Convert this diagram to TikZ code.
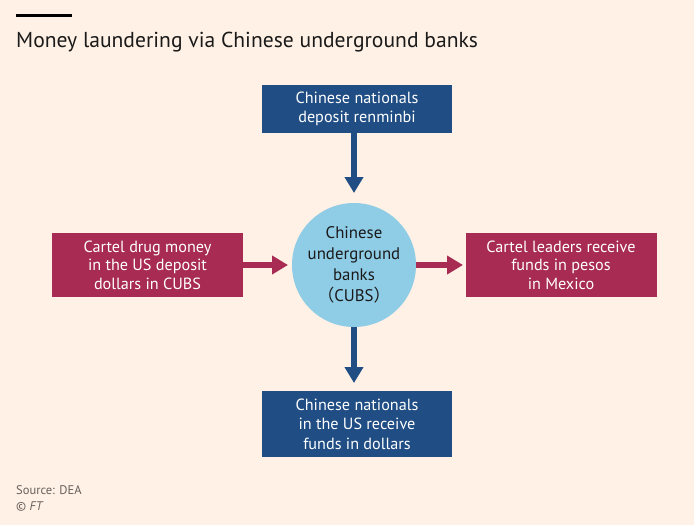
\documentclass[tikz,border=0pt]{standalone}
\usepackage{fontspec}
\setmainfont{PT Sans}
\newfontfamily\cjk{Noto Sans CJK SC}
\usetikzlibrary{arrows.meta}
\definecolor{ftbg}{HTML}{FFF1E5}
\definecolor{ftblue}{HTML}{1F4D84}
\definecolor{ftclaret}{HTML}{A72B53}
\definecolor{ftsky}{HTML}{8FCCE6}
\definecolor{ftgrey}{HTML}{66605C}
\definecolor{ftink}{HTML}{1A1A1A}
\tikzset{
  bluebox/.style={fill=ftblue, text=white, minimum width=190pt, align=center, inner sep=0pt, font=\fontsize{16.2}{19.5}\selectfont},
  claretbox/.style={fill=ftclaret, text=white, minimum width=191pt, minimum height=64pt, align=center, inner sep=0pt, font=\fontsize{16.2}{18.5}\selectfont},
  hub/.style={circle, fill=ftsky, text=ftink, minimum size=124pt, align=center, inner sep=0pt, font=\fontsize{16.8}{21}\selectfont},
  bluearrow/.style={draw=ftblue, line width=6pt, -{Triangle[width=18pt,length=16pt]}},
  claretarrow/.style={draw=ftclaret, line width=6pt, -{Triangle[width=18pt,length=16pt]}},
}
\begin{document}
\begin{tikzpicture}[x=1pt,y=-1pt]
\fill[ftbg] (0,0) rectangle (694,525);
\useasboundingbox (0,0) rectangle (694,525);
\fill[black] (16,13.5) rectangle (72,17);
\node[anchor=base west, inner sep=0pt, font=\fontsize{21.6}{24}\selectfont, text=ftink] (title) at (16,47) {Money laundering via Chinese underground banks};
\node[hub] (cubs) at (354,265) {Chinese\\underground\\banks\\{\cjk （}CUBS{\cjk ）}};
\node[bluebox, minimum height=48pt] (top) at (357,109) {Chinese nationals\\deposit renminbi};
\node[bluebox, minimum height=66pt] (bottom) at (357,424) {Chinese nationals\\in the US receive\\funds in dollars};
\node[claretbox] (left) at (147.5,265) {Cartel drug money\\in the US deposit\\dollars in CUBS};
\node[claretbox] (right) at (561,265) {Cartel leaders receive\\funds in pesos\\in Mexico};
\coordinate (ttip) at (354,193);
\coordinate (btip) at (354,383);
\coordinate (ltip) at (288,265);
\coordinate (rtip) at (463,265);
\draw[bluearrow] (top.south -| cubs) -- (ttip);
\draw[bluearrow] (cubs.south) -- (btip);
\draw[claretarrow] (left.east) -- (ltip);
\draw[claretarrow] (cubs.east) -- (rtip);
\node[anchor=base west, inner sep=0pt, font=\fontsize{12.5}{15}\selectfont, text=ftgrey] (source) at (16,494) {Source: DEA};
\node[anchor=base west, inner sep=0pt, font=\fontsize{12.5}{15}\selectfont, text=ftgrey] (credit) at (16,510) {© \textit{FT}};
\end{tikzpicture}
\end{document}
